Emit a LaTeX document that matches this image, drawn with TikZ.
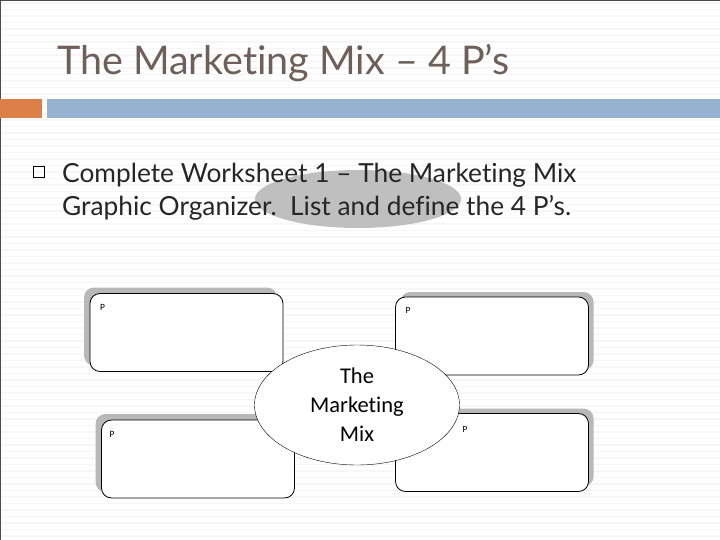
\documentclass[tikz,border=0pt]{standalone}
\usepackage{fontspec}
\setmainfont{Lato}[Ligatures=NoCommon]
\newfontfamily\boxfont{Carlito}[Ligatures=NoCommon]
\usetikzlibrary{positioning,shadows,shapes.geometric}

\definecolor{titlebrown}{HTML}{6E5F58}
\definecolor{accentorange}{HTML}{DD8047}
\definecolor{accentblue}{HTML}{95B3D0}
\definecolor{stripegray}{HTML}{F6F6F6}

\tikzset{
    pbox/.style={draw, thick, rounded corners=10pt, fill=white,
        minimum width=193pt, minimum height=78pt, inner sep=0pt},
    shadowleft/.style={general shadow={fill=black!28, shadow xshift=-6pt, shadow yshift=6pt}},
    shadowright/.style={general shadow={fill=black!28, shadow xshift=5pt, shadow yshift=5pt}},
    plabel/.style={font=\boxfont\fontsize{9.5}{10}\selectfont, inner sep=0pt},
    bodytext/.style={font=\fontsize{26.3}{30}\selectfont, text=black!85, inner sep=0pt}
}

\begin{document}
\begin{tikzpicture}[x=1pt, y=-1pt]
    \useasboundingbox (0,0) rectangle (720,540);
    \fill[white] (0,0) rectangle (720,540);

    % faint striped background
    \foreach \yy in {3,9.5,...,540}
        \draw[stripegray, line width=1.5pt] (0,\yy) -- (720,\yy);
    \draw[black!70, line width=1.2pt] (0,540) -- (0,0) -- (720,0);

    % title and accent bars
    \node[anchor=base west, inner sep=0pt, text=titlebrown,
          font=\fontsize{39.5}{42}\selectfont] (title) at (57,75)
        {The Marketing Mix – 4 P’s};
    \fill[accentorange] (0,99) rectangle (42,118);
    \fill[accentblue] (47,99) rectangle (720,118);

    % highlight behind the instruction
    \fill[black!25] (358,199) ellipse [x radius=103pt, y radius=29pt];

    % bullet and instruction text
    \node[draw, thin, minimum size=11pt, inner sep=0pt] (bullet) at (39,172) {};
    \node[bodytext, anchor=base west] (line1) at (62,183)
        {Complete Worksheet 1 – The Marketing Mix};
    \node[bodytext, anchor=base west] (line2) at (62,215)
        {Graphic Organizer.\ \ List and define the 4 P’s.};

    % the four P boxes
    \node[pbox, shadowleft] (ptl) at (186.5,332.5) {};
    \node[pbox, shadowleft] (pbl) at (198,459) {};
    \node[pbox, shadowright] (ptr) at (492,336) {};
    \node[pbox, shadowright] (pbr) at (492,452.5) {};

    \node[plabel] (ltl) at ([shift={(13,14)}]ptl.north west) {P};
    \node[plabel] (lbl) at ([shift={(11,15)}]pbl.north west) {P};
    \node[plabel] (ltr) at ([shift={(13,14)}]ptr.north west) {P};

    % centre ellipse
    \node[draw, thin, fill=white, ellipse, minimum width=205pt, minimum height=120pt,
          inner sep=0pt, align=center, font=\boxfont\fontsize{22.5}{29}\selectfont]
          (mix) at (357,405) {The\\Marketing\\Mix};

    \node[plabel] (lbr) at ([shift={(70,16)}]pbr.north west) {P};
\end{tikzpicture}
\end{document}
